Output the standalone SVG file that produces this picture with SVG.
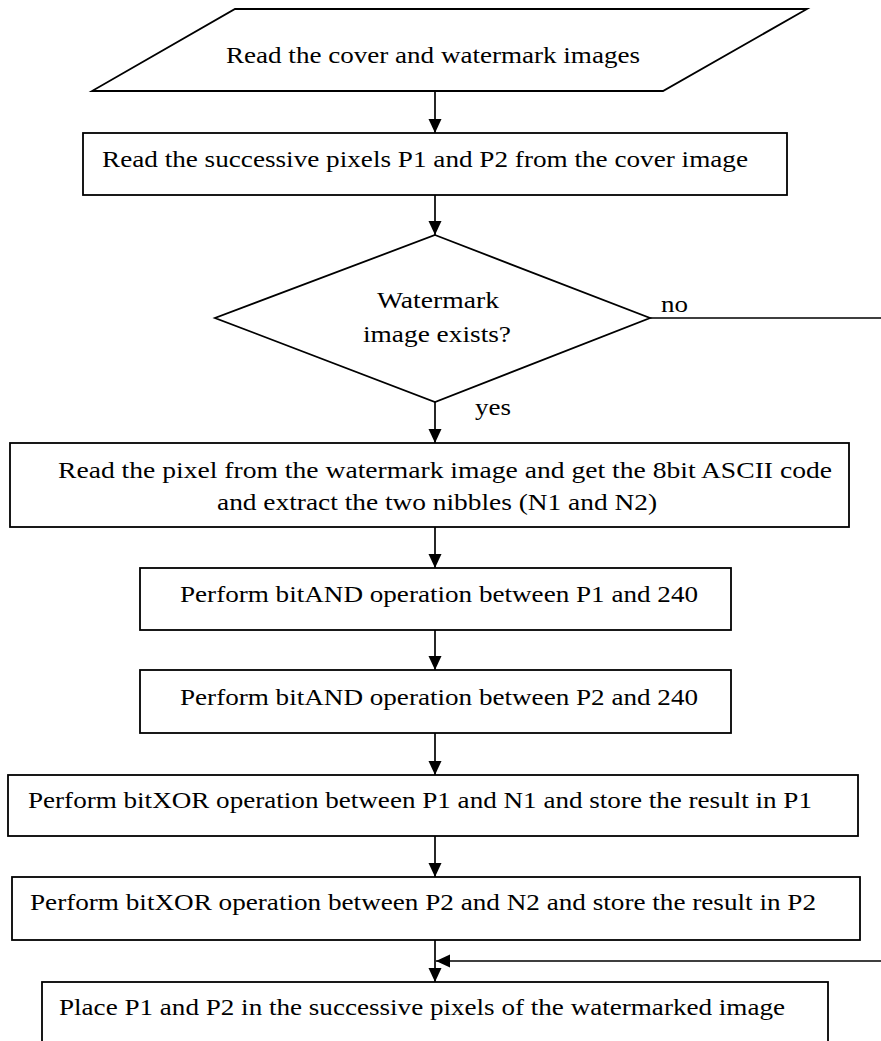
<svg xmlns="http://www.w3.org/2000/svg" width="881" height="1041" viewBox="0 0 881 1041">
<defs>
<style>
.box{fill:#fff;stroke:#000;stroke-width:1.8}
.con{fill:none;stroke:#000;stroke-width:1.7}
.t{font-family:"Liberation Serif","Times New Roman",Tinos,"Nimbus Roman",serif;font-size:24px;fill:#000}
</style>
<marker id="ah" markerUnits="userSpaceOnUse" markerWidth="15" markerHeight="14" refX="14" refY="6.5" orient="auto" viewBox="0 0 15 14">
<path d="M0,0 L14,6.5 L0,13 z" fill="#000"/>
</marker>
</defs>
<rect width="881" height="1041" fill="#fff"/>
<g id="connectors">
<line class="con" x1="435" y1="91" x2="435" y2="133" marker-end="url(#ah)"/>
<line class="con" x1="435" y1="195" x2="435" y2="235" marker-end="url(#ah)"/>
<line class="con" x1="435" y1="402" x2="435" y2="443" marker-end="url(#ah)"/>
<line class="con" x1="435" y1="527" x2="435" y2="568" marker-end="url(#ah)"/>
<line class="con" x1="435" y1="630" x2="435" y2="670" marker-end="url(#ah)"/>
<line class="con" x1="435" y1="733" x2="435" y2="775" marker-end="url(#ah)"/>
<line class="con" x1="435" y1="836" x2="435" y2="877" marker-end="url(#ah)"/>
<line class="con" x1="435" y1="940" x2="435" y2="982" marker-end="url(#ah)"/>
<path class="con" d="M650,318 H895 V961 H436" marker-end="url(#ah)"/>
<text class="t" x="661" y="312" textLength="27" lengthAdjust="spacingAndGlyphs">no</text>
<text class="t" x="475" y="415" textLength="36" lengthAdjust="spacingAndGlyphs">yes</text>
</g>
<g id="n1">
<polygon class="box" points="235,9 807,9 663,91 92,91"/>
<text class="t" x="226" y="63" textLength="414" lengthAdjust="spacingAndGlyphs">Read the cover and watermark images</text>
</g>
<g id="n2">
<rect class="box" x="83" y="133" width="704" height="62"/>
<text class="t" x="102" y="167" textLength="646" lengthAdjust="spacingAndGlyphs">Read the successive pixels P1 and P2 from the cover image</text>
</g>
<g id="n3">
<polygon class="box" points="435,235 650,318 435,402 215,318"/>
<text class="t" x="377" y="308" textLength="122" lengthAdjust="spacingAndGlyphs">Watermark</text>
<text class="t" x="363" y="342" textLength="148" lengthAdjust="spacingAndGlyphs">image exists?</text>
</g>
<g id="n4">
<rect class="box" x="10" y="443" width="839" height="84"/>
<text class="t" x="58" y="478" textLength="774" lengthAdjust="spacingAndGlyphs">Read the pixel from the watermark image and get the 8bit ASCII code</text>
<text class="t" x="217" y="510" textLength="440" lengthAdjust="spacingAndGlyphs">and extract the two nibbles (N1 and N2)</text>
</g>
<g id="n5">
<rect class="box" x="140" y="568" width="591" height="62"/>
<text class="t" x="180" y="602" textLength="518" lengthAdjust="spacingAndGlyphs">Perform bitAND operation between P1 and 240</text>
</g>
<g id="n6">
<rect class="box" x="140" y="670" width="591" height="63"/>
<text class="t" x="180" y="705" textLength="518" lengthAdjust="spacingAndGlyphs">Perform bitAND operation between P2 and 240</text>
</g>
<g id="n7">
<rect class="box" x="8" y="775" width="850" height="61"/>
<text class="t" x="28" y="808" textLength="784" lengthAdjust="spacingAndGlyphs">Perform bitXOR operation between P1 and N1 and store the result in P1</text>
</g>
<g id="n8">
<rect class="box" x="12" y="877" width="848" height="63"/>
<text class="t" x="30" y="910" textLength="786" lengthAdjust="spacingAndGlyphs">Perform bitXOR operation between P2 and N2 and store the result in P2</text>
</g>
<g id="n9">
<rect class="box" x="42" y="982" width="786" height="80"/>
<text class="t" x="59" y="1015" textLength="726" lengthAdjust="spacingAndGlyphs">Place P1 and P2 in the successive pixels of the watermarked image</text>
</g>
</svg>
